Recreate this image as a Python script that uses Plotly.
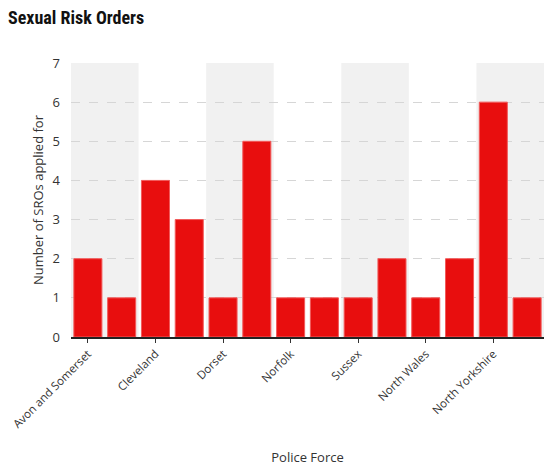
import plotly.graph_objects as go

# bar positions (only every other force is labelled on the chart)
positions = list(range(14))
sro_counts = [2, 1, 4, 3, 1, 5, 1, 1, 1, 2, 1, 2, 6, 1]
label_positions = [0, 2, 4, 6, 8, 10, 12]
force_labels = ["Avon and Somerset", "Cleveland", "Dorset", "Norfolk",
                "Sussex", "North Wales", "North Yorkshire"]
band_starts = [0, 4, 8, 12]

fig = go.Figure()
fig.add_trace(go.Bar(
    x=positions, y=sro_counts,
    marker=dict(color="#e80e0e", line=dict(color="#f25a5a", width=1)),
    hoverinfo="y",
))

# alternating grey background bands
for s in band_starts:
    fig.add_shape(type="rect", xref="x", yref="paper",
                  x0=s - 0.5, x1=s + 1.5, y0=0, y1=1,
                  fillcolor="#f1f1f1", line_width=0, layer="below")

# page body has an 8px margin, so the figure is a bit smaller than the window
fig.update_layout(
    width=552, height=458,
    margin=dict(l=63, r=16, t=55, b=129),
    paper_bgcolor="white", plot_bgcolor="white",
    font=dict(family="Open Sans, sans-serif", size=13, color="#333333"),
    title=dict(text="<b>Sexual Risk Orders</b>", x=0, y=0.978,
               xanchor="left", yanchor="middle", automargin=False,
               font=dict(family="Liberation Sans Narrow, Roboto Condensed, Roboto, sans-serif",
                         size=18, color="#111111")),
    bargap=0.17,
    showlegend=False,
)
fig.update_xaxes(
    range=[-0.5, 13.5], automargin=False, ticklabeloverflow="allow",
    tickvals=label_positions, ticktext=force_labels, tickangle=-45,
    tickfont=dict(size=11.5),
    ticks="outside", ticklen=4, tickcolor="#333333",
    showline=True, linecolor="#222222", linewidth=1.5,
    showgrid=False, zeroline=False,
    title=dict(text="Police Force", standoff=24, font=dict(size=13)),
)
fig.update_yaxes(
    range=[0, 7], dtick=1, automargin=False,
    showgrid=True, gridcolor="#d6d6d6", griddash="dash", gridwidth=1,
    zeroline=False, ticks="", ticklabelstandoff=10,
    title=dict(text="Number of SROs applied for", standoff=6, font=dict(size=13)),
)

fig.write_html("out.html")
